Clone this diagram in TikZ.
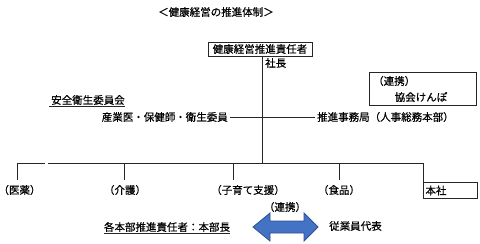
\documentclass[tikz,border=0pt]{standalone}
\usepackage{xcolor}
\usepackage{fontspec}
\setmainfont{Noto Sans CJK JP}[FakeBold=0.6]
\usepackage{tikz}
\usetikzlibrary{positioning}
\definecolor{arrowblue}{HTML}{4472C4}
\definecolor{arrowedge}{HTML}{2F528F}

\begin{document}
\begin{tikzpicture}[x=1pt,y=-1pt,font=\fontsize{10.5pt}{12pt}\selectfont,
  line/.style={black!85,line width=0.9pt},
  frame/.style={draw=black!85,line width=0.9pt,inner sep=0pt}]
\useasboundingbox (0,0) rectangle (480,244);
\node (title) at (216,12) {＜健康経営の推進体制＞};
\node[frame,minimum width=104pt,minimum height=14pt] (head) at (260,49) {健康経営推進責任者};
\node[anchor=west,inner sep=0pt] (pres) at (265,63) {社長};
\coordinate (hub) at (262,163);
\draw[line] (head.south -| hub) -- (hub);

% committee and office
\node[inner sep=0pt] (committee) at (88,100) {安全衛生委員会};
\draw[line,line width=0.7pt] ([xshift=-2pt,yshift=-2pt]committee.base west) -- ([yshift=-2pt]committee.base east);
\node[anchor=east,inner sep=2pt] (staff) at (230,117) {産業医・保健師・衛生委員};
\node[anchor=west,inner sep=2pt] (office) at (315,117) {推進事務局（人事総務本部）};
\draw[line] (staff.east) -- (office.west);

\node[frame,minimum width=107pt,minimum height=33pt] (kyokai) at (422.5,89) {};
\node[anchor=west,inner sep=0pt] (kyolink) at (373,81) {（連携）};
\node[inner sep=0pt] (kyoname) at (421,97) {協会けんぽ};

% divisions
\coordinate (busL) at (17,163);
\coordinate (gapL) at (45,163);
\coordinate (gapR) at (48,163);
\coordinate (busR) at (423,163);
\draw[line] (busL) -- (gapL);
\draw[line] (gapR) -- (busR);
\foreach \i/\x/\lx/\name in {1/17/19.5/医薬,2/124/125/介護,3/233/248/子育て支援,4/339/339/食品} {
    \node[inner sep=1pt] (div\i) at (\lx,190) {（\name）};
    \coordinate (drop\i) at (\x,180);
    \draw[line] (drop\i |- hub) -- (drop\i);
}
\node[frame,anchor=north west,minimum width=54pt,minimum height=16pt,text width=50pt,inner xsep=2pt,align=left] (honsha) at (423,182) {本社};
\draw[line] (busR) -- (honsha.north west);

% bottom
\node[inner sep=0pt] (leaders) at (167,227) {各本部推進責任者：本部長};
\draw[line,line width=0.7pt] ([yshift=-2pt]leaders.base west) -- ([yshift=-2pt]leaders.base east);
\node (link) at (285,207) {（連携）};
\filldraw[fill=arrowblue,draw=arrowedge,line width=0.8pt] (253,227) -- (270,213) -- (270,221) -- (304,221) -- (304,213) -- (318,227)
    -- (304,241) -- (304,233) -- (270,233) -- (270,241) -- cycle;
\node[anchor=west,inner sep=0pt] (staffrep) at (329,226) {従業員代表};
\end{tikzpicture}
\end{document}
